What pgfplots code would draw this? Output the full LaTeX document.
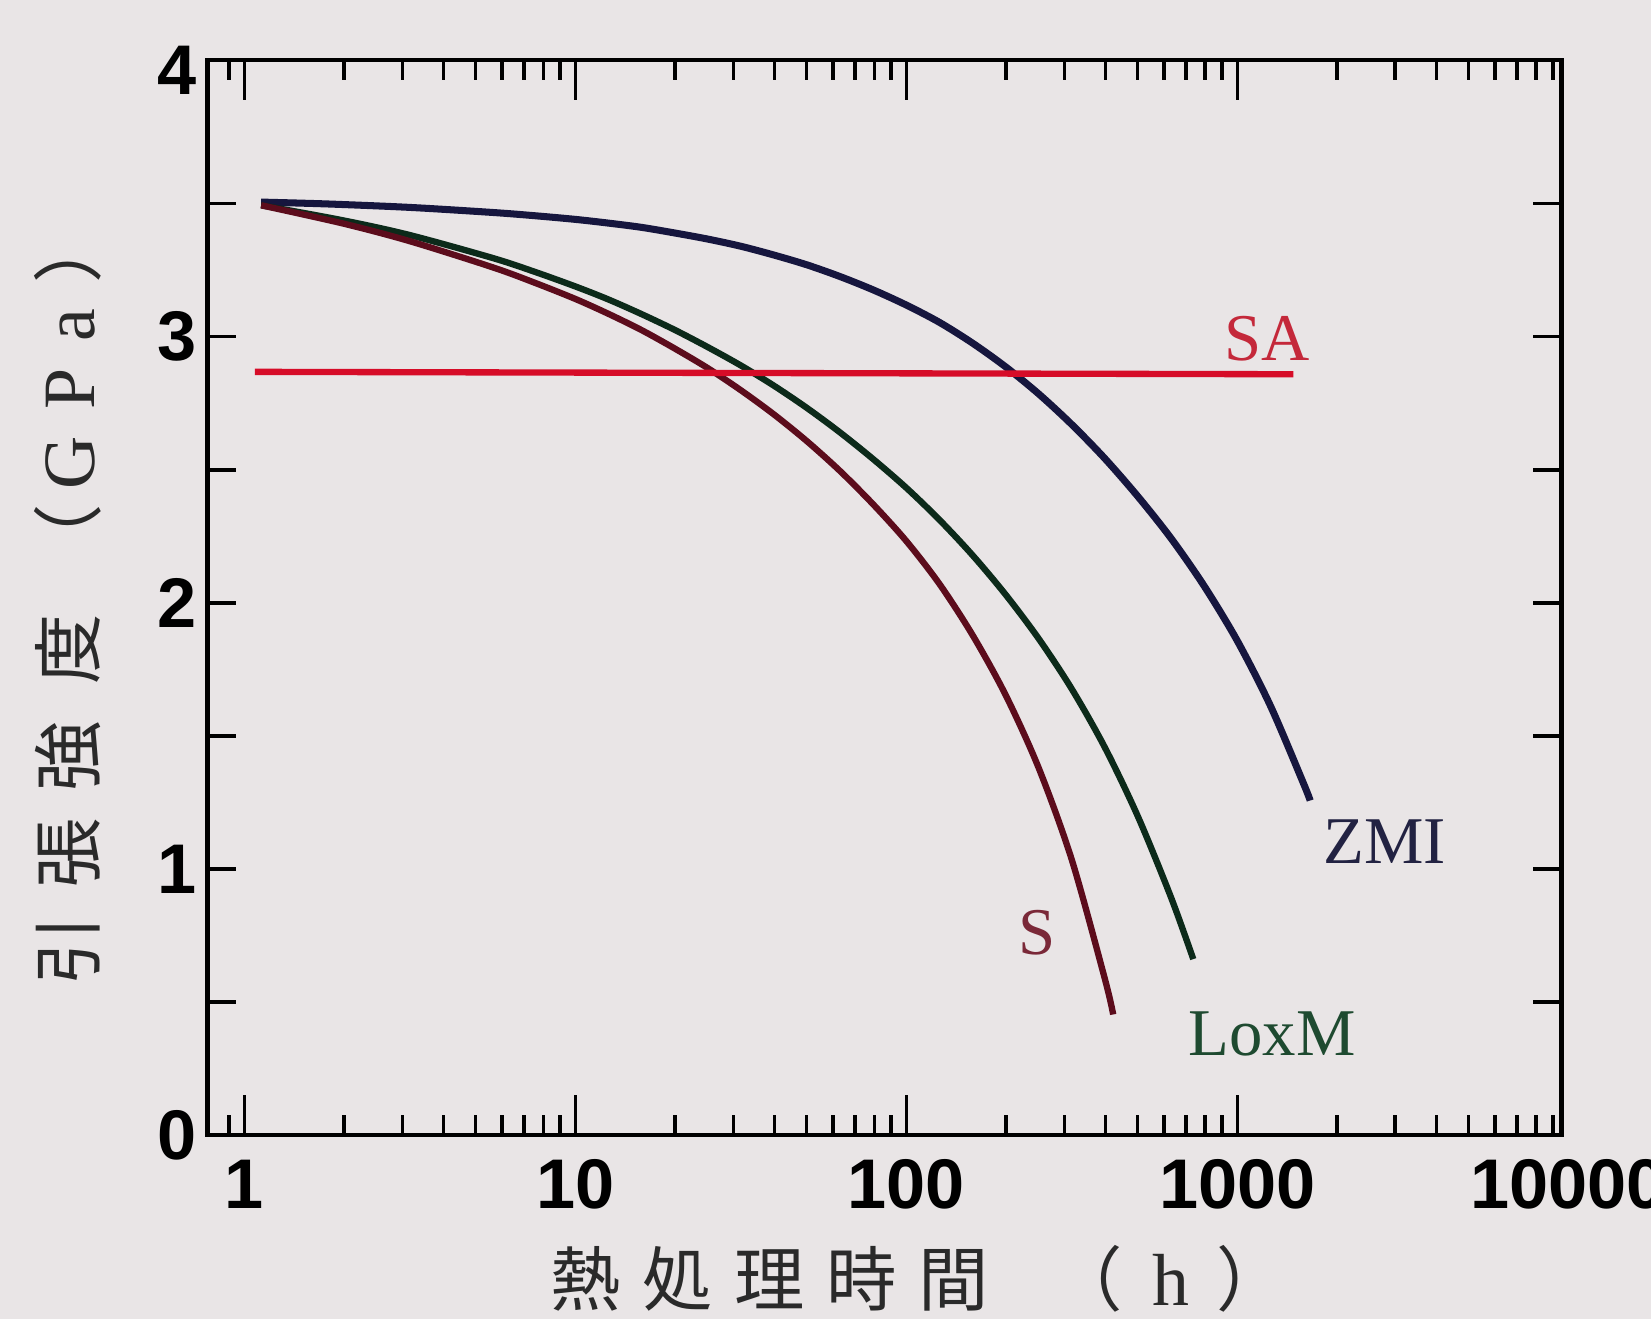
\documentclass[border=0pt]{standalone}
\usepackage{pgfplots}
\pgfplotsset{compat=1.18}
\usepackage{fontspec}
\setmainfont{Liberation Sans}
\newfontfamily\cjk{Noto Sans CJK JP}
\newfontfamily\serif{Liberation Serif}
\definecolor{bgc}{RGB}{233,229,230}
\definecolor{zmi}{RGB}{22,22,62}
\definecolor{lox}{RGB}{12,42,26}
\definecolor{scol}{RGB}{92,12,28}
\definecolor{sacol}{RGB}{214,12,40}
\definecolor{salab}{RGB}{196,40,58}
\definecolor{zmilab}{RGB}{34,34,66}
\definecolor{loxlab}{RGB}{30,74,48}
\definecolor{slab}{RGB}{122,40,56}
\definecolor{labc}{RGB}{42,42,42}
\begin{document}
\begin{tikzpicture}
\fill[bgc] (-20.75mm,-18.4mm) rectangle (144.35mm,113.5mm);
\useasboundingbox (-20.75mm,-18.4mm) rectangle (144.35mm,113.5mm);
\begin{axis}[
  at={(0,0)}, anchor=south west,
  scale only axis, width=135.4mm, height=107.5mm,
  xmode=log, xmin=0.774, xmax=9539, ymin=0, ymax=4.04,
  clip=false, no markers,
  axis line style={line width=1.2pt, black},
  tick align=inside, xtick pos=both, ytick pos=both,
  xtick={1,10,100,1000}, xticklabels={1,10,100,1000},
  minor xtick={0.9,2,3,4,5,6,7,8,9,20,30,40,50,60,70,80,90,200,300,400,500,600,700,800,900,2000,3000,4000,5000,6000,7000,8000,9000},
  ytick={0,0.5,1,1.5,2,2.5,3,3.5}, yticklabels={0,,1,,2,,3,},
  extra y ticks={4}, extra y tick labels={4},
  extra y tick style={tick style={draw=none}},
  major tick length=4mm, minor tick length=2mm,
  tick style={line width=1pt, black},
  ytick style={/pgfplots/major tick length=2.9mm},
  ticklabel style={font=\fontsize{20}{24}\selectfont\bfseries, text=black},
  xticklabel style={yshift=-3.5pt},
  yticklabel style={xshift=0.5pt},
  /pgf/number format/assume math mode=true,
]
% ZMI
\addplot[color=zmi, line width=2pt, smooth, tension=0.5] coordinates {
(1.124,3.506) (1.778,3.499) (3.162,3.486) (5.623,3.467) (7.499,3.455)
(10,3.441) (12.59,3.427) (15.85,3.411) (19.95,3.390) (25.12,3.367)
(31.62,3.340) (39.81,3.307) (50.12,3.270) (63.1,3.226) (79.43,3.176)
(100,3.119) (125.9,3.054) (158.5,2.976) (199.5,2.887) (251.2,2.785)
(316.2,2.670) (398.1,2.542) (501.2,2.399) (631,2.242) (794.3,2.063)
(1000,1.857) (1259,1.613) (1585,1.321) (1660,1.257)
};
% LoxM
\addplot[color=lox, line width=1.8pt, smooth, tension=0.5] coordinates {
(1.124,3.494) (1.995,3.437) (3.162,3.382) (5.623,3.296) (7.499,3.245)
(10,3.189) (12.59,3.140) (15.85,3.085) (19.95,3.026) (25.12,2.961)
(31.62,2.892) (39.81,2.816) (50.12,2.732) (63.1,2.640) (79.43,2.540)
(100,2.432) (125.9,2.312) (158.5,2.179) (199.5,2.031) (251.2,1.865)
(316.2,1.676) (398.1,1.456) (501.2,1.196) (631,0.892) (736.2,0.661)
};
% S
\addplot[color=scol, line width=1.8pt, smooth, tension=0.5] coordinates {
(1.124,3.494) (1.995,3.425) (3.162,3.359) (5.623,3.261) (7.499,3.204)
(10,3.142) (12.59,3.086) (15.85,3.025) (19.95,2.956) (25.12,2.882)
(31.62,2.799) (39.81,2.708) (50.12,2.607) (63.1,2.495) (79.43,2.370)
(100,2.232) (125.9,2.071) (158.5,1.879) (199.5,1.654) (251.2,1.379)
(316.2,1.034) (398.1,0.586) (421.7,0.453)
};
% SA
\addplot[color=sacol, line width=1.8pt] coordinates {
(1.076,2.868) (1476,2.859)
};
\node[text=salab, font=\serif\fontsize{19}{22}\selectfont] at (axis cs:1229,2.991) {SA};
\node[text=zmilab, font=\serif\fontsize{19}{22}\selectfont] at (axis cs:2793,1.101) {ZMI};
\node[text=loxlab, font=\serif\fontsize{19}{22}\selectfont] at (axis cs:1273,0.380) {LoxM};
\node[text=slab, font=\serif\fontsize{19}{22}\selectfont] at (axis cs:248,0.759) {S};
\node[anchor=north, font=\fontsize{20}{24}\selectfont\bfseries, inner sep=0.333em, yshift=-3.5pt] at (axis cs:10000,0) {10000};
\end{axis}
\node[inner sep=0pt, text=labc, font=\fontsize{20}{24}\selectfont] at (71.1mm,-14.4mm)
{\cjk\makebox[0pt]{熱}\hspace{26.2pt}\makebox[0pt]{処}\hspace{26.2pt}\makebox[0pt]{理}\hspace{26.2pt}\makebox[0pt]{時}\hspace{26.2pt}\makebox[0pt]{間}\hspace{38pt}\makebox[0pt]{（}\hspace{23.7pt}\makebox[0pt]{\serif\fontsize{21}{24}\selectfont h}\hspace{23pt}\makebox[0pt]{）}};
\node[inner sep=0pt, rotate=90, text=labc, font=\fontsize{20}{24}\selectfont] at (-13.95mm,53.56mm)
{\cjk\makebox[0pt]{引}\hspace{27.6pt}\makebox[0pt]{張}\hspace{27.6pt}\makebox[0pt]{強}\hspace{30.4pt}\makebox[0pt]{度}\hspace{31.3pt}\makebox[0pt]{（}\hspace{21.6pt}\makebox[0pt]{\serif\fontsize{21}{24}\selectfont G}\hspace{21.1pt}\makebox[0pt]{\serif\fontsize{21}{24}\selectfont P}\hspace{18.2pt}\makebox[0pt]{\serif\fontsize{21}{24}\selectfont a}\hspace{21.7pt}\makebox[0pt]{）}};
\end{tikzpicture}
\end{document}
